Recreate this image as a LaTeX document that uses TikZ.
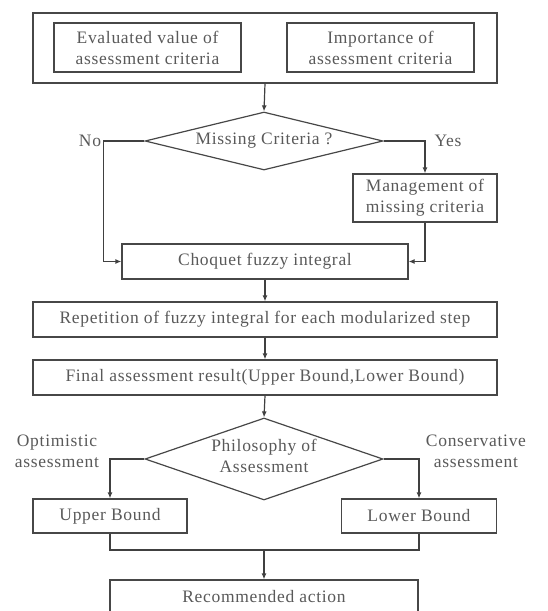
\documentclass[tikz,border=0pt]{standalone}
\usepackage{fontspec}
\setmainfont{Liberation Serif}[LetterSpace=4]
\usetikzlibrary{shapes.geometric,arrows.meta}
\begin{document}
\begin{tikzpicture}[x=1pt,y=-1pt,
  font=\fontsize{17.5}{21}\selectfont,
  box/.style={draw=black!72,line width=1.2pt,rectangle,inner sep=0pt,text=black!65,align=center},
  dia/.style={draw=black!72,line width=1.2pt,diamond,inner sep=0pt,minimum width=238pt},
  lbl/.style={text=black!65,inner sep=0pt,align=center},
  ln/.style={draw=black!75,line width=1.2pt},
  arr/.style={ln,-{Latex[length=6pt,width=5pt]}}]
\useasboundingbox (0,0) rectangle (548,611);
\node[box,minimum width=464pt,minimum height=70pt] (top) at (265,48) {};
\node[box,minimum width=187pt,minimum height=49pt] (eval) at (147.5,47.5) {Evaluated value of\\assessment criteria};
\node[box,minimum width=187pt,minimum height=49pt] (imp) at (380.5,47.5) {Importance of\\assessment criteria};
\node[dia,minimum height=58pt] (d1) at (264,141) {};
\node[lbl] (d1t) at (d1) {Missing Criteria ?};
\node[lbl] (no) at (90,141) {No};
\node[lbl] (yes) at (448,141) {Yes};
\node[box,minimum width=144pt,minimum height=48pt] (mgmt) at (425,198) {Management of\\missing criteria};
\node[box,minimum width=286pt,minimum height=35pt] (choq) at (265,261.5) {Choquet fuzzy integral};
\node[box,minimum width=464pt,minimum height=35pt] (rep) at (265,319.5) {Repetition of fuzzy integral for each modularized step};
\node[box,minimum width=464pt,minimum height=35pt] (fin) at (265,377.5) {Final assessment result(Upper Bound,Lower Bound)};
\node[dia,minimum height=82pt] (d2) at (264,459) {};
\node[lbl] (d2t) at (264,456) {Philosophy of\\Assessment};
\node[lbl] (opt) at (57,451) {Optimistic\\assessment};
\node[lbl] (con) at (476,451) {Conservative\\assessment};
\node[box,minimum width=154pt,minimum height=34pt] (up) at (110,516) {Upper Bound};
\node[box,minimum width=155pt,minimum height=34pt] (low) at (419,516) {Lower Bound};
\node[box,minimum width=308pt,minimum height=34pt] (rec) at (264,597) {Recommended action};
\coordinate (j) at (264,550);
\draw[arr] (top.south) -- (d1.north);
\draw[arr] (d1.west) -- ++(-41,0) |- (choq.west);
\draw[arr] (d1.east) -| (mgmt.north);
\draw[arr] (mgmt.south) |- (choq.east);
\draw[arr] (choq.south) -- (rep.north);
\draw[arr] (rep.south) -- (fin.north);
\draw[arr] (fin.south) -- (d2.north);
\draw[arr] (d2.west) -| (up.north);
\draw[arr] (d2.east) -| (low.north);
\draw[ln] (up.south) |- (j) -| (low.south);
\draw[arr] (j) -- (rec.north);
\end{tikzpicture}
\end{document}
